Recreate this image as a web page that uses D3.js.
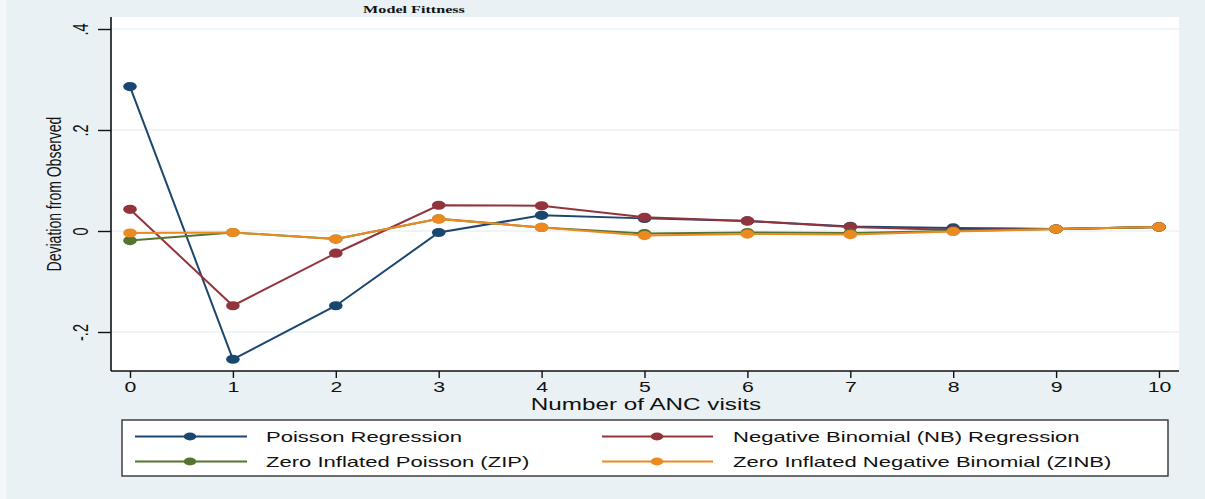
<!DOCTYPE html>
<html>
<head>
<meta charset="utf-8">
<script src="https://cdn.jsdelivr.net/npm/d3@7"></script>
<style>
  html, body { margin: 0; padding: 0; background: #e9f1f4; }
  svg { display: block; }
  text { font-family: "Liberation Sans", Arial, sans-serif; fill: #111; }
</style>
</head>
<body>
<div id="chart"></div>
<script>
// ---- Data -------------------------------------------------------------------
const visits  = [0, 1, 2, 3, 4, 5, 6, 7, 8, 9, 10];
const poisson = [0.286, -0.254, -0.148, -0.003, 0.031, 0.025, 0.020, 0.009, 0.006, 0.004, 0.008];
const nbReg   = [0.043, -0.148, -0.044, 0.051, 0.050, 0.027, 0.020, 0.008, 0.002, 0.004, 0.008];
const zip     = [-0.019, -0.003, -0.016, 0.024, 0.007, -0.005, -0.003, -0.004, 0.000, 0.004, 0.008];
const zinb    = [-0.004, -0.003, -0.016, 0.024, 0.007, -0.009, -0.006, -0.007, -0.001, 0.004, 0.008];
const yTicks  = [-0.2, 0, 0.2, 0.4];
const yTickLabels = ['-.2', '0', '.2', '.4'];

const series = [
  { name: 'Poisson Regression',                       values: poisson, color: '#1a476f' },
  { name: 'Negative Binomial (NB) Regression',        values: nbReg,   color: '#93343c' },
  { name: 'Zero Inflated Poisson (ZIP)',              values: zip,     color: '#55752f' },
  { name: 'Zero Inflated Negative Binomial (ZINB)',   values: zinb,    color: '#ec8a22' }
];

// ---- Layout -----------------------------------------------------------------
const W = 1205, H = 499;
const P = { left: 111, right: 1179, top: 17, bottom: 371 };
const SX = 1.47; // the picture is stretched horizontally

const svg = d3.select('#chart').append('svg').attr('width', W).attr('height', H);

svg.append('rect').attr('width', W).attr('height', H).attr('fill', '#e9f1f4');
svg.append('rect').attr('width', 6).attr('height', H).attr('fill', '#f4f8fa');

svg.append('rect')
  .attr('x', P.left).attr('y', P.top)
  .attr('width', P.right - P.left).attr('height', P.bottom - P.top)
  .attr('fill', '#ffffff');

const x = d3.scaleLinear().domain([0, 10]).range([130, 1159]);
const y = d3.scaleLinear().domain([-0.2, 0.4]).range([332, 29]);

// gridlines
svg.append('g')
  .selectAll('line').data(yTicks).join('line')
  .attr('x1', P.left).attr('x2', P.right)
  .attr('y1', d => y(d)).attr('y2', d => y(d))
  .attr('stroke', '#eaf1f4').attr('stroke-width', 1.5);

// y axis
const yAxis = svg.append('g')
  .attr('transform', `translate(${P.left},0)`)
  .call(d3.axisLeft(y).tickValues(yTicks).tickFormat((d, i) => yTickLabels[i]).tickSize(13).tickSizeOuter(0));
yAxis.select('.domain').attr('d', `M0,${P.top}V${P.bottom}`).attr('stroke', '#111').attr('stroke-width', 1.6);
yAxis.selectAll('.tick line').attr('stroke', '#111').attr('stroke-width', 1.4);
yAxis.selectAll('.tick text')
  .attr('x', 0).attr('y', 0).attr('dy', '0.36em')
  .attr('text-anchor', 'middle')
  .attr('transform', `translate(-31,0) scale(${SX},1) rotate(-90)`)
  .style('font-size', '14.5px').style('font-family', '"Liberation Sans", Arial, sans-serif')
  .attr('fill', '#111');

// x axis
const xAxis = svg.append('g')
  .attr('transform', `translate(0,${P.bottom})`)
  .call(d3.axisBottom(x).tickValues(visits).tickSize(7).tickSizeOuter(0));
xAxis.select('.domain').attr('d', `M${P.left},0H${P.right}`).attr('stroke', '#111').attr('stroke-width', 1.6);
xAxis.selectAll('.tick line').attr('stroke', '#111').attr('stroke-width', 1.4);
xAxis.selectAll('.tick text')
  .attr('y', 11).attr('dy', '0.71em')
  .attr('transform', `scale(${SX},1)`)
  .style('font-size', '14.5px').style('font-family', '"Liberation Sans", Arial, sans-serif')
  .attr('fill', '#111');

// titles
svg.append('text')
  .attr('transform', `translate(414,13) scale(${SX},1)`)
  .attr('text-anchor', 'middle')
  .style('font-family', '"Liberation Serif", "Times New Roman", serif')
  .style('font-weight', '700').style('font-size', '11px')
  .text('Model Fittness');

svg.append('text')
  .attr('transform', `translate(646,410) scale(${SX},1)`)
  .attr('text-anchor', 'middle')
  .style('font-size', '16.5px')
  .text('Number of ANC visits');

svg.append('text')
  .attr('transform', `translate(54,194) scale(${SX},1) rotate(-90)`)
  .attr('text-anchor', 'middle').attr('dy', '0.36em')
  .style('font-size', '14px')
  .text('Deviation from Observed');

// ---- Series -----------------------------------------------------------------
const line = d3.line().x((d, i) => x(visits[i])).y(d => y(d));
const plotG = svg.append('g');

series.forEach(s => {
  const g = plotG.append('g');
  g.append('path')
    .attr('d', line(s.values))
    .attr('fill', 'none')
    .attr('stroke', s.color)
    .attr('stroke-width', 2);
  g.selectAll('ellipse').data(s.values).join('ellipse')
    .attr('cx', (d, i) => x(visits[i]))
    .attr('cy', d => y(d))
    .attr('rx', 6.8).attr('ry', 4.6)
    .attr('fill', s.color);
});

// ---- Legend -----------------------------------------------------------------
const L = { x: 122, y: 420, w: 1046, h: 56 };
const leg = svg.append('g');
leg.append('rect')
  .attr('x', L.x).attr('y', L.y).attr('width', L.w).attr('height', L.h)
  .attr('fill', '#ffffff').attr('stroke', '#333').attr('stroke-width', 1.4);

const cols = [{ x1: 135, x2: 247, dot: 190, tx: 266 }, { x1: 602, x2: 713, dot: 657, tx: 733 }];
const rows = [436.5, 461.5];

series.forEach((s, i) => {
  const c = cols[i % 2], ry = rows[Math.floor(i / 2)];
  leg.append('line')
    .attr('x1', c.x1).attr('x2', c.x2).attr('y1', ry).attr('y2', ry)
    .attr('stroke', s.color).attr('stroke-width', 2);
  leg.append('ellipse')
    .attr('cx', c.dot).attr('cy', ry).attr('rx', 6.3).attr('ry', 3.9)
    .attr('fill', s.color);
  leg.append('text')
    .attr('transform', `translate(${c.tx},${ry}) scale(${SX},1)`)
    .attr('dy', '0.36em')
    .style('font-size', '15px')
    .text(s.name);
});
</script>
</body>
</html>
